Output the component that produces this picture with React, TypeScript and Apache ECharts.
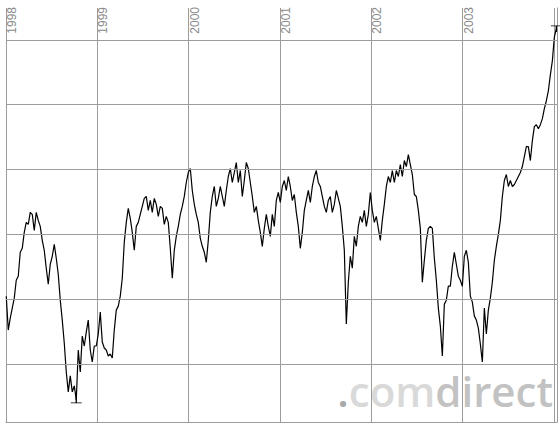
import React, { useEffect, useRef } from "react";
import * as echarts from "echarts";

// Closing prices sampled every 8 days, starting 1998-01-02 (index units, no axis labels shown)
const close1998 = [
  133, 99, 111, 121, 131, 149, 153, 177, 181, 197, 207, 205, 217, 215, 199, 217,
  209, 203, 189, 179, 161, 145, 165, 173, 185, 171, 155, 129, 109, 86, 57, 37,
  53, 37, 43, 29, 79, 57, 93, 83, 97, 109, 79, 67, 83,
];
const close1999 = [
  83, 95, 117, 87, 81, 79, 73, 75, 71, 99, 119, 123, 133, 151, 187, 207,
  221, 211, 197, 179, 203, 207, 215, 223, 231, 233, 219, 229, 217, 231, 225, 213,
  223, 221, 205, 213, 207, 181, 151, 179, 193, 203, 215, 223, 233, 247,
];
const close2000 = [
  257, 261, 239, 225, 215, 207, 191, 183, 177, 167, 189, 217, 233, 243, 223, 231,
  243, 233, 223, 239, 253, 261, 247, 257, 267, 247, 259, 233, 249, 267, 261, 247,
  233, 217, 223, 209, 197, 183, 201, 215, 203, 193, 215, 203, 229, 237,
];
const close2001 = [
  227, 243, 249, 239, 253, 243, 229, 235, 217, 203, 181, 197, 219, 229, 239, 227,
  243, 253, 259, 247, 243, 233, 223, 217, 229, 233, 217, 225, 239, 231, 223, 203,
  179, 105, 147, 173, 161, 193, 183, 203, 213, 207, 219, 203, 215, 237,
];
const close2002 = [
  219, 207, 213, 201, 189, 209, 225, 243, 253, 247, 259, 247, 259, 253, 265, 253,
  269, 263, 275, 265, 255, 235, 233, 219, 201, 147, 169, 189, 201, 203, 201, 171,
  149, 121, 103, 73, 125, 129, 143, 143, 163, 177, 165, 153, 149, 143,
];
const close2003 = [
  173, 179, 167, 133, 127, 113, 109, 101, 85, 67, 121, 95, 119, 131, 147, 169,
  183, 195, 209, 233, 249, 255, 243, 249, 243, 245, 249, 253, 257, 263, 273, 283,
  283, 269, 289, 303, 305, 301, 305, 311, 321, 329, 339, 355, 369, 393, 401,
];

const startYear = 1998;
const firstDayOfYear = 1; // 1998-01-02
const stepDays = 8;

const yearTicks = [1998, 1999, 2000, 2001, 2002, 2003];
const yGridValues = [65, 130, 195, 260, 325, 390];
const xMin = 1998;
const xMax = 2004.033;
const yMin = 6.8;
const yMax = 422;

const GRID = "#9c9c9c";

export default function App() {
  const ref = useRef<HTMLDivElement>(null);

  useEffect(() => {
    if (!ref.current) return;
    const chart = echarts.init(ref.current, undefined, { renderer: "svg" });
    const closes = [
      ...close1998,
      ...close1999,
      ...close2000,
      ...close2001,
      ...close2002,
      ...close2003,
    ];
    const data = closes.map((v, i) => [
      startYear + (firstDayOfYear + i * stepDays) / 365.25,
      v,
    ]);

    chart.setOption({
      animation: false,
      backgroundColor: "#ffffff",
      grid: {
        left: 6,
        right: 3,
        top: 8,
        bottom: 5,
        containLabel: false,
        outerBoundsMode: "none",
      },
      xAxis: [
        {
          type: "value",
          position: "top",
          min: xMin,
          max: xMax,
          interval: 1,
          axisLine: { show: false },
          axisTick: { show: false },
          axisLabel: {
            show: true,
            inside: true,
            rotate: -90,
            margin: -1,
            align: "right",
            verticalAlign: "top",
            color: "#8a8a8a",
            fontSize: 12,
            fontFamily: "Liberation Sans, Arial, sans-serif",
            formatter: (v: number) =>
              yearTicks.includes(Math.round(v)) && Math.abs(v - Math.round(v)) < 1e-6
                ? String(Math.round(v))
                : "",
          },
          splitLine: { show: true, lineStyle: { color: GRID, width: 1 } },
        },
        {
          type: "value",
          position: "bottom",
          min: xMin,
          max: xMax,
          axisLine: { show: true, lineStyle: { color: GRID, width: 1 } },
          axisTick: { show: false },
          axisLabel: { show: false },
          splitLine: { show: false },
        },
      ],
      yAxis: {
        type: "value",
        position: "right",
        min: yMin,
        max: yMax,
        axisLine: { show: true, lineStyle: { color: GRID, width: 1 } },
        axisTick: { show: false },
        axisLabel: { show: false },
        splitLine: { show: false },
      },
      graphic: {
        elements: [
          {
            type: "text",
            z: -10,
            x: 553,
            y: 390,
            style: {
              text: "{a|.}{b|com}{c|direct}",
              align: "right",
              verticalAlign: "middle",
              font: "600 42px 'Open Sans', sans-serif",
              rich: {
                a: { fill: "#a9a9a9", fontSize: 42, fontFamily: "Open Sans", fontWeight: 600 },
                b: { fill: "#d9d9d9", fontSize: 42, fontFamily: "Open Sans", fontWeight: 600 },
                c: { fill: "#c2c2c2", fontSize: 42, fontFamily: "Open Sans", fontWeight: 600 },
              },
            },
          },
        ],
      },
      series: [
        {
          type: "line",
          xAxisIndex: 0,
          data,
          showSymbol: false,
          symbol: "none",
          z: 3,
          lineStyle: { color: "#000000", width: 1.2 },
          markLine: {
            silent: true,
            symbol: ["none", "none"],
            label: { show: false },
            lineStyle: { color: GRID, type: "solid", width: 1 },
            emphasis: { disabled: true },
            data: yGridValues.map((v) => ({ yAxis: v })),
          },
          markPoint: {
            silent: true,
            label: { show: false },
            data: [
              {
                type: "max",
                symbol: "path://M0,0L10,0M5,0L5,6",
                symbolSize: [11, 6],
              },
              {
                type: "min",
                symbol: "path://M0,6L10,6M5,0L5,6",
                symbolSize: [11, 6],
              },
            ],
            itemStyle: { color: "none", borderColor: "#000000", borderWidth: 1 },
          },
        },
      ],
    });
    return () => chart.dispose();
  }, []);

  return (
    <div
      ref={ref}
      style={{ position: "fixed", left: 0, top: 0, width: 560, height: 427 }}
    />
  );
}
